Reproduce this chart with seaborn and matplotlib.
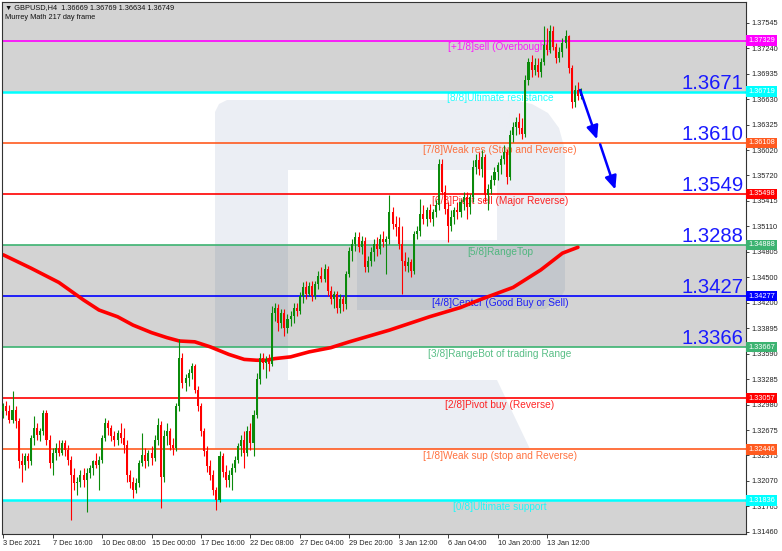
import matplotlib
matplotlib.use("Agg")
import matplotlib.pyplot as plt
import matplotlib.transforms as mtransforms
from matplotlib.patches import Polygon, Rectangle
import seaborn as sns
import numpy as np

# ---------------- data ----------------
opens = [
1.3290,1.3296,1.3290,1.3280,1.3292,1.3278,1.3230,1.3226,1.3236,1.3230,
1.3258,1.3270,1.3262,1.3266,1.3288,1.3256,1.3228,1.3240,1.3246,1.3240,
1.3252,1.3244,1.3232,1.3214,1.3204,1.3206,1.3214,1.3208,1.3216,1.3222,
1.3230,1.3226,1.3232,1.3258,1.3276,1.3270,1.3260,1.3256,1.3264,1.3258,
1.3250,1.3214,1.3206,1.3196,1.3204,1.3228,1.3238,1.3230,1.3240,1.3234,
1.3256,1.3274,1.3212,1.3260,1.3266,1.3250,1.3246,1.3296,1.3354,1.3324,
1.3330,1.3336,1.3344,1.3316,1.3296,1.3266,1.3242,1.3224,1.3214,1.3196,
1.3184,1.3236,1.3218,1.3208,1.3214,1.3222,1.3232,1.3248,1.3256,1.3240,
1.3266,1.3252,1.3286,1.3328,1.3354,1.3348,1.3352,1.3346,1.3408,1.3414,
1.3396,1.3408,1.3390,1.3400,1.3404,1.3414,1.3410,1.3428,1.3438,1.3430,
1.3440,1.3428,1.3442,1.3452,1.3448,1.3460,1.3434,1.3424,1.3430,1.3414,
1.3424,1.3418,1.3454,1.3482,1.3490,1.3498,1.3486,1.3494,1.3462,1.3470,
1.3480,1.3490,1.3484,1.3496,1.3492,1.3496,1.3528,1.3514,1.3510,1.3490,
1.3470,1.3464,1.3468,1.3458,1.3502,1.3506,1.3526,1.3520,1.3530,1.3520,
1.3528,1.3536,1.3586,1.3552,1.3532,1.3512,1.3522,1.3530,1.3528,1.3540,
1.3546,1.3534,1.3546,1.3582,1.3590,1.3580,1.3594,1.3548,1.3556,1.3566,
1.3576,1.3584,1.3592,1.3600,1.3570,1.3620,1.3630,1.3636,1.3628,1.3622,
1.3686,1.3708,1.3698,1.3704,1.3696,1.3708,1.3728,1.3722,1.3744,1.3726,
1.3712,1.3720,1.3730,1.3738,1.3700,1.3660,1.3674,1.36669]
highs = [
1.3300,1.3302,1.3298,1.3314,1.3296,1.3282,1.3240,1.3240,1.3240,1.3262,
1.3284,1.3276,1.3270,1.3292,1.3292,1.3262,1.3246,1.3252,1.3256,1.3256,
1.3256,1.3250,1.3236,1.3222,1.3212,1.3220,1.3222,1.3222,1.3226,1.3232,
1.3240,1.3236,1.3262,1.3282,1.3280,1.3274,1.3266,1.3268,1.3276,1.3270,
1.3256,1.3220,1.3212,1.3210,1.3232,1.3264,1.3246,1.3244,1.3248,1.3262,
1.3282,1.3278,1.3268,1.3276,1.3270,1.3258,1.3300,1.3376,1.3360,1.3334,
1.3340,1.3348,1.3346,1.3320,1.3300,1.3270,1.3248,1.3232,1.3220,1.3200,
1.3242,1.3240,1.3226,1.3220,1.3228,1.3236,1.3252,1.3262,1.3266,1.3272,
1.3276,1.3292,1.3336,1.3360,1.3360,1.3356,1.3358,1.3416,1.3420,1.3418,
1.3412,1.3412,1.3406,1.3410,1.3420,1.3420,1.3432,1.3444,1.3446,1.3444,
1.3446,1.3446,1.3458,1.3462,1.3466,1.3464,1.3440,1.3434,1.3434,1.3430,
1.3428,1.3458,1.3486,1.3496,1.3504,1.3504,1.3500,1.3498,1.3476,1.3486,
1.3496,1.3498,1.3502,1.3506,1.3500,1.3548,1.3534,1.3524,1.3522,1.3512,
1.3480,1.3474,1.3472,1.3506,1.3512,1.3544,1.3536,1.3534,1.3538,1.3532,
1.3542,1.3592,1.3592,1.3560,1.3540,1.3530,1.3534,1.3540,1.3544,1.3552,
1.3552,1.3550,1.3590,1.3598,1.3600,1.3602,1.3598,1.3562,1.3572,1.3582,
1.3588,1.3596,1.3608,1.3604,1.3626,1.3636,1.3642,1.3646,1.3640,1.3692,
1.3712,1.3716,1.3712,1.3712,1.3712,1.3750,1.3748,1.3752,1.3750,1.3730,
1.3726,1.3736,1.3746,1.3740,1.3704,1.3680,1.3684,1.36769]
lows = [
1.3282,1.3286,1.3276,1.3276,1.3270,1.3222,1.3206,1.3220,1.3222,1.3226,
1.3250,1.3256,1.3254,1.3262,1.3250,1.3222,1.3214,1.3232,1.3236,1.3238,
1.3236,1.3226,1.3160,1.3196,1.3190,1.3200,1.3200,1.3170,1.3210,1.3214,
1.3222,1.3196,1.3228,1.3254,1.3262,1.3254,1.3248,1.3250,1.3252,1.3240,
1.3206,1.3198,1.3186,1.3192,1.3200,1.3224,1.3222,1.3224,1.3226,1.3230,
1.3250,1.3174,1.3206,1.3250,1.3244,1.3238,1.3242,1.3290,1.3318,1.3314,
1.3320,1.3328,1.3312,1.3290,1.3260,1.3236,1.3218,1.3208,1.3190,1.3172,
1.3182,1.3212,1.3200,1.3200,1.3196,1.3218,1.3228,1.3236,1.3222,1.3236,
1.3244,1.3236,1.3282,1.3322,1.3340,1.3330,1.3338,1.3344,1.3398,1.3386,
1.3390,1.3380,1.3384,1.3392,1.3396,1.3404,1.3406,1.3420,1.3424,1.3428,
1.3422,1.3424,1.3436,1.3444,1.3444,1.3428,1.3418,1.3414,1.3408,1.3408,
1.3410,1.3412,1.3450,1.3470,1.3482,1.3480,1.3478,1.3456,1.3456,1.3464,
1.3470,1.3476,1.3478,1.3486,1.3454,1.3490,1.3508,1.3500,1.3484,1.3430,
1.3458,1.3456,1.3450,1.3454,1.3496,1.3500,1.3514,1.3512,1.3516,1.3512,
1.3522,1.3530,1.3548,1.3526,1.3492,1.3506,1.3514,1.3520,1.3522,1.3530,
1.3520,1.3526,1.3540,1.3574,1.3572,1.3570,1.3540,1.3530,1.3550,1.3560,
1.3566,1.3574,1.3586,1.3562,1.3566,1.3612,1.3620,1.3622,1.3616,1.3618,
1.3680,1.3690,1.3692,1.3690,1.3690,1.3704,1.3716,1.3718,1.3722,1.3706,
1.3708,1.3714,1.3724,1.3694,1.3652,1.3654,1.3662,1.36634]
closes = [
1.3296,1.3290,1.3280,1.3292,1.3278,1.3230,1.3226,1.3236,1.3230,1.3258,
1.3270,1.3262,1.3266,1.3288,1.3256,1.3228,1.3240,1.3246,1.3240,1.3252,
1.3244,1.3232,1.3214,1.3204,1.3206,1.3214,1.3208,1.3216,1.3222,1.3230,
1.3226,1.3232,1.3258,1.3276,1.3270,1.3260,1.3256,1.3264,1.3258,1.3250,
1.3214,1.3206,1.3196,1.3204,1.3228,1.3238,1.3230,1.3240,1.3234,1.3256,
1.3274,1.3212,1.3260,1.3266,1.3250,1.3246,1.3296,1.3354,1.3324,1.3330,
1.3336,1.3344,1.3316,1.3296,1.3266,1.3242,1.3224,1.3214,1.3196,1.3184,
1.3236,1.3218,1.3208,1.3214,1.3222,1.3232,1.3248,1.3256,1.3240,1.3266,
1.3252,1.3286,1.3328,1.3354,1.3348,1.3352,1.3346,1.3408,1.3414,1.3396,
1.3408,1.3390,1.3400,1.3404,1.3414,1.3410,1.3428,1.3438,1.3430,1.3440,
1.3428,1.3442,1.3452,1.3448,1.3460,1.3434,1.3424,1.3430,1.3414,1.3424,
1.3418,1.3454,1.3482,1.3490,1.3498,1.3486,1.3494,1.3462,1.3470,1.3480,
1.3490,1.3484,1.3496,1.3492,1.3496,1.3528,1.3514,1.3510,1.3490,1.3470,
1.3464,1.3468,1.3458,1.3502,1.3506,1.3526,1.3520,1.3530,1.3520,1.3528,
1.3536,1.3586,1.3552,1.3532,1.3512,1.3522,1.3530,1.3528,1.3540,1.3546,
1.3534,1.3546,1.3582,1.3590,1.3580,1.3594,1.3548,1.3556,1.3566,1.3576,
1.3584,1.3592,1.3600,1.3570,1.3620,1.3630,1.3636,1.3628,1.3622,1.3686,
1.3708,1.3698,1.3704,1.3696,1.3708,1.3728,1.3722,1.3744,1.3726,1.3712,
1.3720,1.3730,1.3738,1.3700,1.3660,1.3674,1.3667,1.36749]

# moving average (red) read at selected bars
ma_idx = [0, 9, 18, 26, 31, 37, 42, 48, 53, 57, 62, 67, 73, 78, 82, 85, 88, 93,
          99, 106, 112, 125, 138, 148, 154, 165, 174, 181, 186]
ma_val = [1.3477, 1.3461, 1.3444, 1.3423, 1.3411, 1.3403, 1.3393, 1.3384, 1.3378,
          1.3374, 1.3373, 1.3367, 1.3358, 1.3352, 1.3351, 1.3351, 1.3353, 1.3355,
          1.3361, 1.3366, 1.3373, 1.3387, 1.3403, 1.3414, 1.3423, 1.3438, 1.3459,
          1.3479, 1.3486]

# Murrey math levels
levels = [1.37329, 1.36719, 1.36108, 1.35498, 1.34888, 1.34277, 1.33667, 1.33057,
          1.32446, 1.31836]
level_names = ['[+1/8]sell (Overbought)', '[8/8]Ultimate resistance',
               '[7/8]Weak res (Stop and Reverse)', '[6/8]Pivot sell (Major Reverse)',
               '[5/8]RangeTop', '[4/8]Center (Good Buy or Sell)',
               '[3/8]RangeBot of trading Range', '[2/8]Pivot buy (Reverse)',
               '[1/8]Weak sup (stop and Reverse)', '[0/8]Ultimate support']
level_colors = ['#ff00ff', '#00ffff', '#ff5a1f', '#ff0000', '#3cb371', '#0000ff',
                '#3cb371', '#ff0000', '#ff5a1f', '#00ffff']
level_widths = [1.2, 1.8, 1.2, 1.2, 1.2, 1.2, 1.2, 1.2, 1.2, 1.8]

# analyst target labels (text, level index they sit on)
target_texts = ['1.3671', '1.3610', '1.3549', '1.3288', '1.3427', '1.3366']
target_levels = [1, 2, 3, 4, 5, 6]

# forecast arrows (bar index, price)
arrow_starts = [(186.7, 1.3674), (193.2, 1.3609)]
arrow_ends = [(192.2, 1.3615), (198.1, 1.3555)]

ytick_vals = [1.37545, 1.37240, 1.36935, 1.36630, 1.36325, 1.36020, 1.35720, 1.35415,
              1.35110, 1.34805, 1.34500, 1.34200, 1.33895, 1.33590, 1.33285, 1.32980,
              1.32675, 1.32375, 1.32070, 1.31765, 1.31460]
ytick_labels = ['1.37545', '1.37240', '1.36935', '1.36630', '1.36325', '1.36020',
                '1.35720', '1.35415', '1.35110', '1.34805', '1.34500', '1.34200',
                '1.33895', '1.33590', '1.33285', '1.32980', '1.32675', '1.32375',
                '1.32070', '1.31765', '1.31460']
xtick_idx = [0, 16, 32, 48, 64, 80, 96, 112, 128, 144, 160, 176]
xtick_labels = ['3 Dec 2021', '7 Dec 16:00', '10 Dec 08:00', '15 Dec 00:00',
                '17 Dec 16:00', '22 Dec 08:00', '27 Dec 04:00', '29 Dec 20:00',
                '3 Jan 12:00', '6 Jan 04:00', '10 Jan 20:00', '13 Jan 12:00']
current_price = 1.36749
header1 = '\u25bc GBPUSD,H4  1.36669 1.36769 1.36634 1.36749'
header2 = 'Murrey Math 217 day frame'

# ---------------- style ----------------
sns.set_style('white')
plt.rcParams['font.family'] = ['Liberation Sans', 'DejaVu Sans']

W, H = 782, 551
fig = plt.figure(figsize=(W / 100, H / 100), dpi=100)
AX_L, AX_R, AX_T, AX_B = 2, 746, 2, 534
ax = fig.add_axes([AX_L / W, (H - AX_B) / H, (AX_R - AX_L) / W, (AX_B - AX_T) / H])

ymin, ymax = 1.31433, 1.37792
ax.set_ylim(ymin, ymax)
ax.set_xlim(-0.4, 240.4)

GRAY = '#d3d3d3'
ax.axhspan(levels[1], ymax, color=GRAY, zorder=0, lw=0)
ax.axhspan(levels[6], levels[4], color=GRAY, zorder=0, lw=0)
ax.axhspan(ymin, levels[9], color=GRAY, zorder=0, lw=0)

# watermark (layout decoration, pixel coordinates converted to axes fraction)
def pp(points):
    return [((x - AX_L) / (AX_R - AX_L), (AX_B - y) / (AX_B - AX_T)) for x, y in points]

wm_color = (0.29, 0.42, 0.61)
wm_alpha = 0.11
shapes = [
    [(215, 112), (219, 104), (227, 100), (288, 100), (288, 449), (215, 449)],
    [(288, 100), (513, 100), (497, 170), (288, 170)],
    [(513, 100), (532, 104), (548, 113), (559, 128), (565, 150), (565, 290), (558, 302),
     (545, 309), (497, 310), (497, 170)],
    [(357, 240), (497, 240), (497, 310), (357, 310)],
    [(288, 380), (497, 380), (530, 449), (288, 449)],
]
for s in shapes:
    ax.add_patch(Polygon(pp(s), closed=True, transform=ax.transAxes, fc=wm_color,
                         alpha=wm_alpha, ec='none', zorder=0.5))

# level lines + labels
xlab = (500 - AX_L) / (AX_R - AX_L)
blend = mtransforms.blended_transform_factory(ax.transAxes, ax.transData)
for lv, nm, col, lw in zip(levels, level_names, level_colors, level_widths):
    ax.axhline(lv, color=col, lw=lw, zorder=1)
    ax.annotate(nm, xy=(xlab, lv), xycoords=blend, xytext=(0, -1.2),
                textcoords='offset points', ha='center', va='top', color=col,
                fontsize=7.3, zorder=1.2, alpha=0.85)

# moving average
sns.lineplot(x=ma_idx, y=ma_val, ax=ax, color='#ff0000', lw=2.6, zorder=2.5,
             legend=False)

# candles
x = np.arange(len(closes))
o = np.array(opens); c = np.array(closes); hi = np.array(highs); lo = np.array(lows)
up = c >= o
cols = np.where(up, '#0b8a0b', '#ff0000')
ax.vlines(x, lo, hi, colors=cols, lw=0.8, zorder=2.9)
body = np.maximum(np.abs(c - o), 0.00004)
ax.bar(x, body, bottom=np.minimum(o, c), width=0.66, color=cols, linewidth=0,
       zorder=3)

# target text labels
for t, li in zip(target_texts, target_levels):
    ax.annotate(t, xy=(0.997, levels[li]), xycoords=blend, xytext=(0, 2.2),
                textcoords='offset points', ha='right', va='baseline',
                color='#1a1aff', fontsize=14.6, zorder=5)

# forecast arrows
for s, e in zip(arrow_starts, arrow_ends):
    ax.annotate('', xy=e, xytext=s, xycoords='data',
                arrowprops=dict(arrowstyle='-|>,head_length=0.8,head_width=0.35',
                                color='#0000ff', lw=1.8, shrinkA=0, shrinkB=0),
                zorder=5)

# axes / ticks
ax.set_xlabel(''); ax.set_ylabel('')
ax.yaxis.tick_right()
ax.set_yticks(ytick_vals)
ax.set_yticklabels(ytick_labels)
ax.set_xticks(xtick_idx)
ax.set_xticklabels(xtick_labels, ha='left')
ax.tick_params(axis='y', which='both', right=True, left=False, labelright=True,
               labelleft=False, labelsize=5.3, length=2.5, width=0.6, pad=1.5,
               colors='#222222', direction='out')
ax.tick_params(axis='x', bottom=True, labelsize=5.3, length=3, width=0.6, pad=1.5,
               colors='#222222', direction='out')
for sp in ax.spines.values():
    sp.set_color('#333333'); sp.set_linewidth(0.8)

# price boxes on the right (current price marker mostly hidden behind 8/8 box)
ax.add_patch(Rectangle((1.002, current_price - 0.00035), 0.0385, 0.0007,
                       transform=blend, fc='black', ec='none', zorder=6,
                       clip_on=False))
for lv, col in zip(levels, level_colors):
    ax.text(1.003, lv, f'{lv:.5f}', transform=blend, ha='left', va='center',
            fontsize=5.3, color='white', zorder=7, clip_on=False,
            bbox=dict(boxstyle='square,pad=0.25', fc=col, ec='none'))

# header
fig.text(5 / W, 1 - 7.5 / H, header1, fontsize=5.3, color='#111111', va='center',
         ha='left')
fig.text(5 / W, 1 - 17.5 / H, header2, fontsize=5.3, color='#111111', va='center',
         ha='left')

fig.savefig('out.png', dpi=100)
